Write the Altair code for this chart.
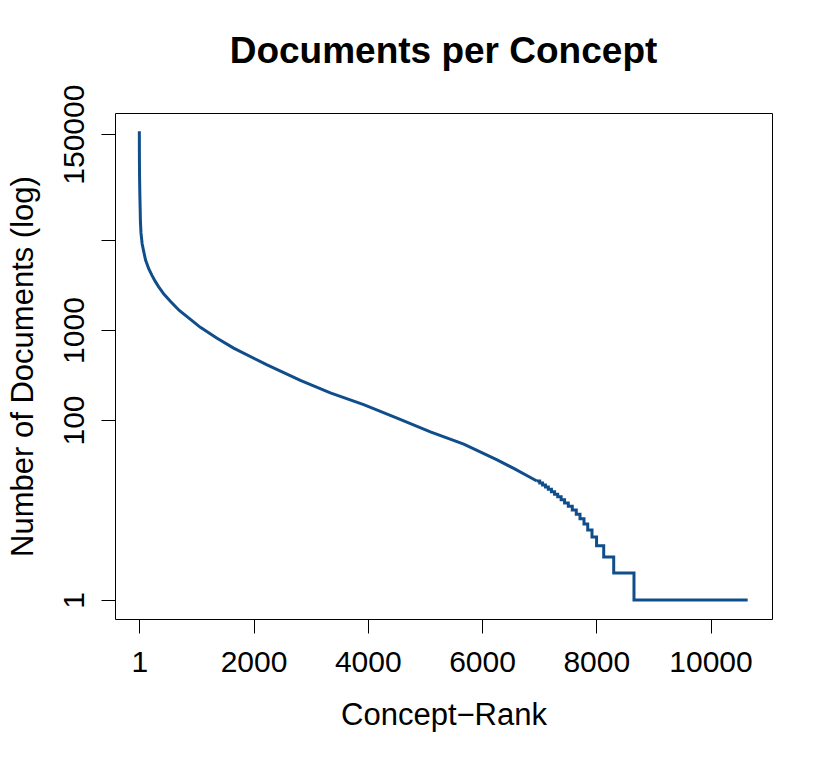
import altair as alt
import pandas as pd

# Smooth head of the rank curve
head_rank = [1, 2, 3, 5, 10, 15, 20, 30, 50, 75, 110, 165, 220, 280, 340, 430, 544,
             700, 836, 1069, 1362, 1652, 2237, 2820, 3345, 3928, 4513, 5096, 5680,
             6264, 6555, 6848, 6960]
head_docs = [162000, 95000, 71000, 50000, 32000, 23000, 16000, 12000, 9100, 7600, 6000,
             4800, 4070, 3470, 3020, 2510, 2090, 1650, 1410, 1070, 810, 630, 410, 275,
             200, 148, 105, 74, 54, 36, 29, 23, 21]

# Stepped tail (rank where each integer count starts)
tail_rank = [6960, 7010, 7060, 7110, 7160, 7215, 7270, 7325, 7385, 7445, 7510, 7580,
             7650, 7715, 7785, 7850, 7925, 8005, 8130, 8305, 8660, 10650]
tail_docs = [21, 20, 19, 18, 17, 16, 15, 14, 13, 12, 11, 10, 9, 8, 7, 6, 5, 4, 3, 2, 1, 1]

x_ticks = [1, 2000, 4000, 6000, 8000, 10000]
y_ticks = [1, 100, 1000, 10000, 150000]

head = pd.DataFrame({"rank": head_rank, "docs": head_docs})
tail = pd.DataFrame({"rank": tail_rank, "docs": tail_docs})

FONT = "Liberation Sans"
COLOR = "#104E8B"

x_enc = alt.X(
    "rank:Q",
    scale=alt.Scale(domain=[-425, 11076], nice=False, zero=False),
    axis=alt.Axis(
        values=x_ticks, title="Concept\u2212Rank", format="d",
        labelBaseline="alphabetic", labelPadding=38,
        titleX=328.5, titleY=105, titleBaseline="alphabetic", titleAlign="center",
    ),
)
y_enc = alt.Y(
    "docs:Q",
    scale=alt.Scale(type="log", domain=[0.615, 258000], nice=False),
    axis=alt.Axis(
        values=y_ticks, title="Number of Documents (log)",
        labelExpr="datum.value == 10000 ? '' : format(datum.value, 'd')",
        labelAngle=270, labelAlign="center", labelBaseline="alphabetic", labelPadding=18,
        titleX=-83, titleY=253, titleAngle=270, titleBaseline="alphabetic", titleAlign="center",
    ),
)

smooth = alt.Chart(head).mark_line(color=COLOR, strokeWidth=3, interpolate="linear").encode(
    x=x_enc, y=y_enc
)
steps = alt.Chart(tail).mark_line(color=COLOR, strokeWidth=3, interpolate="step-after").encode(
    x="rank:Q", y="docs:Q"
)

chart = (
    alt.layer(smooth, steps)
    .properties(
        width=657,
        height=506,
        autosize=alt.AutoSizeParams(type="none"),
        padding={"left": 107, "top": 105, "right": 40, "bottom": 120},
        title=alt.TitleParams(
            "Documents per Concept", font=FONT, fontSize=37, fontWeight="bold",
            color="black", anchor="middle", baseline="alphabetic", offset=20, dy=36,
        ),
    )
    .configure_view(stroke="black", strokeWidth=1)
    .configure_axis(
        domain=False, grid=False, ticks=True, tickColor="black", tickSize=14, tickWidth=1,
        labelFont=FONT, labelFontSize=30, labelColor="black",
        titleFont=FONT, titleFontSize=31, titleColor="black", titleFontWeight="normal",
        labelOverlap=False, labelFlush=False,
    )
)

chart.save("out.html", embed_options={"renderer": "svg", "actions": False})
